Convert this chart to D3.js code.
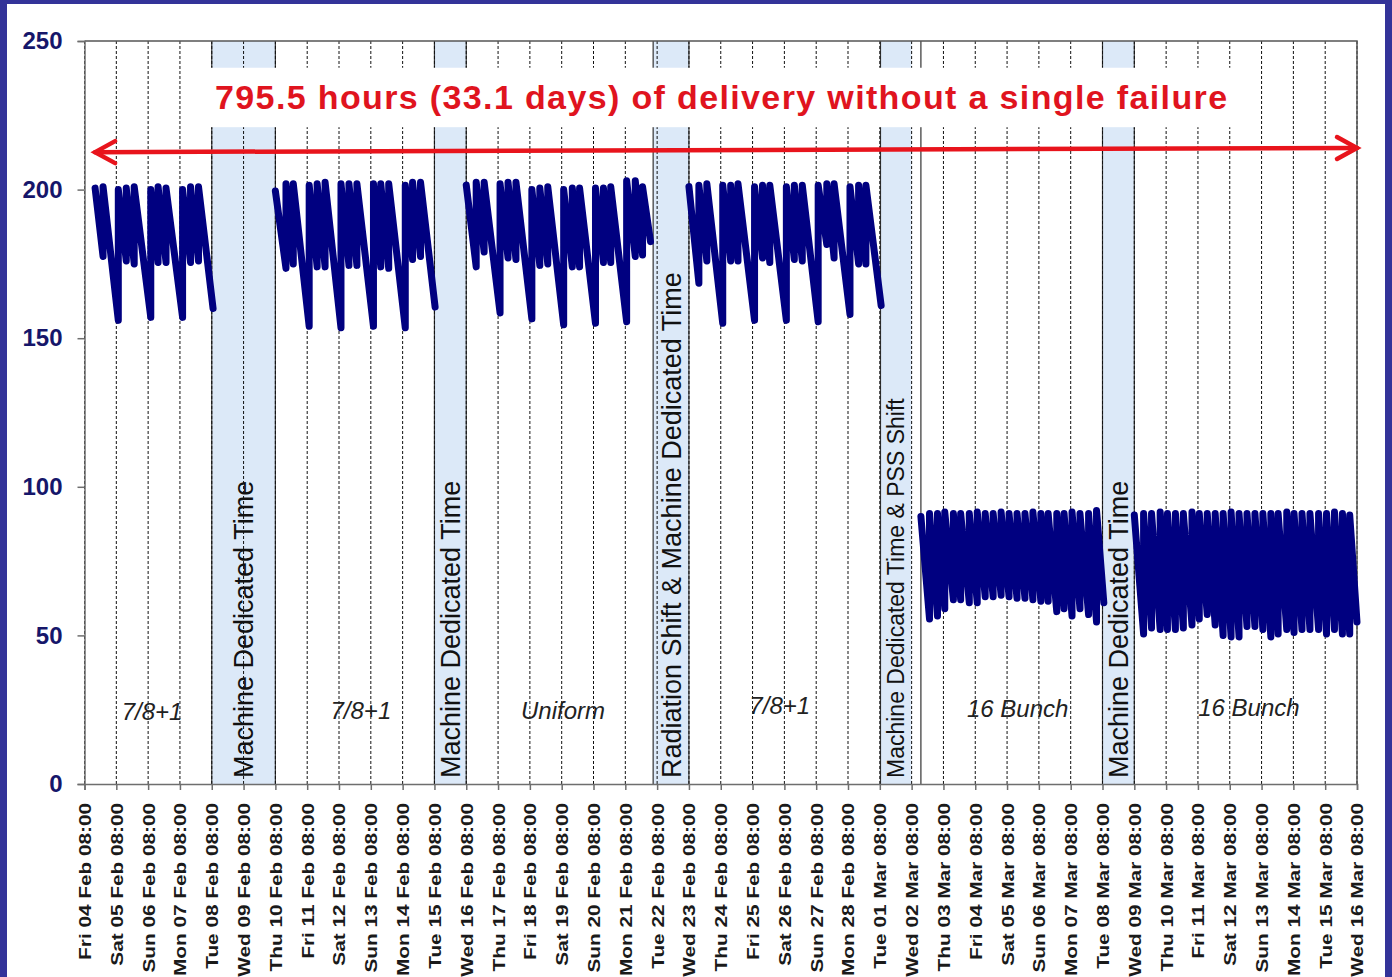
<!DOCTYPE html>
<html>
<head>
  <meta charset="utf-8" />
  <script src="https://cdnjs.cloudflare.com/ajax/libs/d3/7.8.5/d3.min.js"></script>
  <style>
    body { margin: 0; }
    .x-axis text { font: bold 16.5px "Liberation Sans", Arial, sans-serif; fill: #1a1a1a; }
    .y-axis text { font: bold 24px "Liberation Sans", Arial, sans-serif; fill: #16166a; }
    .x-axis path.domain, .y-axis path.domain { stroke: #6e6e6e; stroke-width: 1.5; }
    .tick > line { stroke: #6e6e6e; stroke-width: 1.5; }
  </style>
</head>
<body>
<svg width="1392" height="977"></svg>
<script>
  // all times are hours after Fri 04 Feb 2011 08:00
  var startTime = Date.UTC(2011, 1, 4, 8, 0)
  var endTime = Date.UTC(2011, 2, 16, 8, 0)
  var yTicks = [0, 50, 100, 150, 200, 250]

  // 7/8+1 fill pattern, first run
  var seg1Hours = [8, 14, 25.5, 31.5, 37.5, 50, 55.5, 61.5, 74, 80, 86, 97]
  var seg1Peaks = [200.5, 201, 200, 200.5, 201, 200, 201, 200.5, 200, 201, 201]
  var seg1Troughs = [177.5, 156, 176, 175, 157, 175.5, 175.5, 157, 175.5, 176, 160]

  var seg2Hours = [144, 152, 157.5, 169.5, 175.5, 181.5, 193.5, 199.5, 205.5, 218, 223.5, 229.5, 242, 247.5, 253.5, 264.5]
  var seg2Peaks = [199.5, 202, 202, 201.5, 202, 202.5, 202, 202, 202, 202, 202, 202, 201.5, 202.5, 202.5]
  var seg2Troughs = [173.5, 175, 154, 174, 174, 153.5, 174.5, 174.5, 154, 174, 173.5, 153.5, 176.5, 177.5, 160.5]

  // uniform
  var seg3Hours = [288, 295.5, 301.5, 313.5, 319.5, 325.5, 337.5, 343.5, 349.5, 361.5, 368, 373.5, 385.5, 391.5, 397, 409, 415.5, 421, 427]
  var seg3Peaks = [201.5, 202.5, 202.5, 202, 202.5, 202.5, 200, 200.5, 201, 200, 200.5, 200.5, 200.5, 200.5, 201, 203, 203, 201]
  var seg3Troughs = [174, 179, 158.5, 177, 176.5, 156.5, 174.5, 175, 154.5, 174, 174, 155, 175.5, 175.5, 155.5, 177.5, 178, 182.5]

  var seg4Hours = [456, 463.5, 469.5, 481.5, 487.5, 493, 505.5, 511.5, 517, 529.5, 535.5, 541.5, 553.5, 560, 565.5, 577.5, 584, 589.5, 601]
  var seg4Peaks = [201, 201.5, 202, 201.5, 201.5, 202, 201, 201.5, 201.5, 201, 201.5, 201.5, 201.5, 202, 202, 201, 201.5, 201.5]
  var seg4Troughs = [168.5, 176, 155, 176, 176, 156, 177, 175.5, 156, 176.5, 176, 155.5, 181.5, 177, 158, 175, 175, 161]

  // 16 bunch
  var seg5Hours = [631, 637.5, 643.5, 649, 655.5, 661, 667.5, 673.5, 679.5, 685.5, 691.5, 697.5, 703.5, 709.5, 715.5, 721.5, 727, 733.5, 739, 745, 751, 757.5, 763.5, 769]
  var seg5Peaks = [90, 91, 91, 91.5, 91, 91, 91, 91.5, 91, 91, 91.5, 91, 91, 91, 91.5, 91, 91, 91, 91, 91.5, 91, 91, 92]
  var seg5Troughs = [55.5, 56.5, 59, 62, 62, 61, 61, 63, 63, 63.5, 63, 62.5, 62.5, 62, 61.5, 61.5, 58, 59, 56.5, 59, 57, 54.5, 61]

  var seg6Hours = [792, 799, 805, 811.5, 817, 823, 829, 835.5, 841, 847, 853, 859, 865, 871, 877, 883, 889, 895, 900.5, 907, 912.5, 918.5, 924.5, 931, 937, 943, 949, 954.5, 960]
  var seg6Peaks = [90.5, 91, 91, 91.5, 91, 91, 91, 91.5, 91, 91, 91, 91, 91.5, 91, 91, 91, 91, 91, 91, 91.5, 91, 91, 91, 91, 91, 91.5, 91, 90.5]
  var seg6Troughs = [50.5, 52.5, 52, 52, 52, 52.5, 53.5, 55.5, 57, 53.5, 50, 49.5, 49.5, 53, 53, 52, 49.5, 50.5, 52, 51, 52, 52, 52, 50.5, 52, 50.5, 50.5, 54.5]

  // shaded beam-off periods
  var bandStart = [96, 264, 429, 600.5, 768]
  var bandEnd = [144, 288, 456, 624, 792]
  var bandEdge = [144, 288, 456, 631, 792]
  var bandLabels = ["Machine Dedicated Time", "Machine Dedicated Time",
    "Radiation Shift & Machine Dedicated Time", "Machine Dedicated Time & PSS Shift",
    "Machine Dedicated Time"]
  var bandFont = [27, 27, 27, 23, 27]

  // fill-pattern labels
  var modeLabels = ["7/8+1", "7/8+1", "Uniform", "7/8+1", "16 Bunch", "16 Bunch"]
  var modeHours = [51, 208.5, 361, 524.5, 704, 878.5]
  var modeValues = [21.5, 22, 22, 23.5, 22.5, 23]

  var titleText = "795.5 hours (33.1 days) of delivery without a single failure"

  var hourDate = h => new Date(startTime + h * 3600e3)

  var x = d3.scaleUtc().domain([startTime, endTime]).range([84.5, 1357])
  var y = d3.scaleLinear().domain([0, 250]).range([784, 41])

  var svg = d3.select("svg")

  // frame
  svg.append("rect").attr("width", 1392).attr("height", 977).style("fill", "#333399")
  svg.append("rect").attr("x", 7).attr("y", 4).attr("width", 1378).attr("height", 973).style("fill", "white")

  // bands
  var bands = svg.append("g")
  bandStart.forEach((s, i) => {
    bands.append("rect")
      .attr("x", x(hourDate(s)))
      .attr("y", y(250))
      .attr("width", x(hourDate(bandEnd[i])) - x(hourDate(s)))
      .attr("height", y(0) - y(250))
      .style("fill", "#dce9f8")
    ;[s, bandEdge[i]].forEach(h => {
      bands.append("line")
        .attr("x1", x(hourDate(h))).attr("x2", x(hourDate(h)))
        .attr("y1", y(250)).attr("y2", y(0))
        .style("stroke", "#333").style("stroke-width", 1.2)
    })
  })

  // daily gridlines
  var tickDates = d3.utcHour.range(new Date(startTime), new Date(endTime + 1), 24)
  svg.append("g").selectAll("line")
    .data(tickDates)
    .enter()
    .append("line")
      .attr("x1", d => x(d)).attr("x2", d => x(d))
      .attr("y1", y(250)).attr("y2", y(0))
      .style("stroke", "#111")
      .style("stroke-width", 1)
      .style("stroke-dasharray", "3,2")

  // top and right frame of the plot
  svg.append("path")
    .attr("d", `M${x(startTime)},${y(250)}H${x(endTime)}V${y(0)}`)
    .style("fill", "none").style("stroke", "#555").style("stroke-width", 1.5)

  // title with white background
  svg.append("rect")
    .attr("x", x(hourDate(95))).attr("y", y(241))
    .attr("width", x(hourDate(866)) - x(hourDate(95)))
    .attr("height", y(221) - y(241))
    .style("fill", "white")
  svg.append("text")
    .attr("x", x(hourDate(98.5)))
    .attr("y", y(227))
    .attr("textLength", 1012)
    .attr("lengthAdjust", "spacing")
    .style("font", "bold 34px 'Liberation Sans', Arial, sans-serif")
    .style("fill", "#e0141e")
    .text(titleText)

  // band labels
  bandStart.forEach((s, i) => {
    var cx = (x(hourDate(s)) + x(hourDate(bandEnd[i]))) / 2
    svg.append("text")
      .attr("transform", `translate(${cx},${y(0) - 6}) rotate(-90)`)
      .attr("dy", "0.36em")
      .style("font", `${bandFont[i]}px 'Liberation Sans', Arial, sans-serif`)
      .style("fill", "#111")
      .text(bandLabels[i])
  })

  // series
  var line = d3.line().x(d => x(hourDate(d[0]))).y(d => y(d[1]))
  var segments = [
    [seg1Hours, seg1Peaks, seg1Troughs],
    [seg2Hours, seg2Peaks, seg2Troughs],
    [seg3Hours, seg3Peaks, seg3Troughs],
    [seg4Hours, seg4Peaks, seg4Troughs],
    [seg5Hours, seg5Peaks, seg5Troughs],
    [seg6Hours, seg6Peaks, seg6Troughs]
  ].map(([hours, peaks, troughs]) => {
    var pts = []
    peaks.forEach((p, k) => {
      pts.push([hours[k], p])
      pts.push([hours[k + 1], troughs[k]])
    })
    return pts
  })

  svg.append("g").selectAll("path")
    .data(segments)
    .enter()
    .append("path")
      .attr("d", line)
      .style("fill", "none")
      .style("stroke", "#000080")
      .style("stroke-width", 7)
      .style("stroke-linejoin", "round")
      .style("stroke-linecap", "round")

  // mode labels
  svg.append("g").selectAll("text")
    .data(modeLabels)
    .enter()
    .append("text")
      .attr("x", (d, i) => x(hourDate(modeHours[i])))
      .attr("y", (d, i) => y(modeValues[i]))
      .attr("text-anchor", "middle")
      .style("font", "italic 24px 'Liberation Sans', Arial, sans-serif")
      .style("fill", "#222")
      .text(d => d)

  // axes
  svg.append("g")
    .attr("class", "x-axis")
    .attr("transform", `translate(0,${y(0)})`)
    .call(d3.axisBottom(x).tickValues(tickDates).tickSize(6).tickFormat(d3.utcFormat("%a %d %b %H:%M")))
    .selectAll("text")
      .attr("transform", "rotate(-90) scale(1.26,1)")
      .attr("text-anchor", "end")
      .attr("x", -15)
      .attr("y", 0)
      .attr("dy", "0.36em")

  svg.append("g")
    .attr("class", "y-axis")
    .attr("transform", `translate(${x(startTime)},0)`)
    .call(d3.axisLeft(y).tickValues(yTicks).tickSize(7).tickPadding(15))

  // double-headed arrow
  var arrowFrom = [x(hourDate(8)), y(212.6)]
  var arrowTo = [x(endTime), y(214)]
  var arrow = svg.append("g").style("stroke", "#e8141c").style("stroke-width", 4.5)
    .style("fill", "none").style("stroke-linecap", "round")
  arrow.append("line")
    .attr("x1", arrowFrom[0]).attr("y1", arrowFrom[1])
    .attr("x2", arrowTo[0]).attr("y2", arrowTo[1])
  arrow.append("path")
    .attr("d", `M${arrowFrom[0] + 20},${arrowFrom[1] - 11}L${arrowFrom[0]},${arrowFrom[1]}L${arrowFrom[0] + 20},${arrowFrom[1] + 11}`)
  arrow.append("path")
    .attr("d", `M${arrowTo[0] - 20},${arrowTo[1] - 11}L${arrowTo[0]},${arrowTo[1]}L${arrowTo[0] - 20},${arrowTo[1] + 11}`)
</script>
</body>
</html>
